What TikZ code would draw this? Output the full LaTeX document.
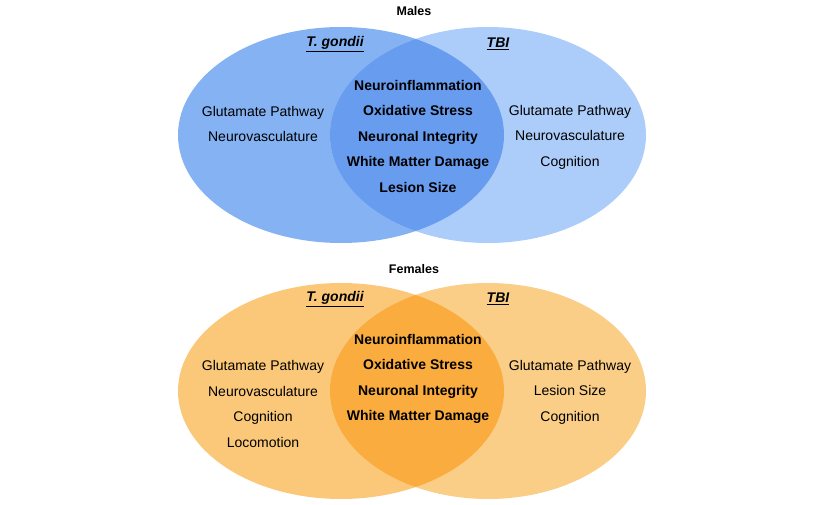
\documentclass[tikz,border=0pt]{standalone}
\usepackage{fontspec}
\setmainfont{Liberation Sans}
\begin{document}
\begin{tikzpicture}[x=1pt,y=-1pt,
 t/.style={font=\fontsize{14}{16}\selectfont,align=center},
 b/.style={font=\fontsize{14}{16}\selectfont\bfseries,align=center},
 hd/.style={font=\fontsize{14}{16}\selectfont\bfseries\itshape},
 tt/.style={font=\fontsize{12.5}{14}\selectfont\bfseries}]
\useasboundingbox (0,0) rectangle (838,505);
\definecolor{mL}{RGB}{132,178,242}\definecolor{mR}{RGB}{172,205,250}\definecolor{mO}{RGB}{104,156,238}
\definecolor{fL}{RGB}{250,200,120}\definecolor{fR}{RGB}{251,206,135}\definecolor{fO}{RGB}{250,172,62}
% males
\fill[mL] (341,135) ellipse (163 and 108);
\fill[mR] (488,135) ellipse (158 and 108);
\begin{scope}\clip (341,135) ellipse (163 and 108);\fill[mO] (488,135) ellipse (158 and 108);\end{scope}
% females
\fill[fL] (341,391) ellipse (163 and 108);
\fill[fR] (488,391) ellipse (158 and 108);
\begin{scope}\clip (341,391) ellipse (163 and 108);\fill[fO] (488,391) ellipse (158 and 108);\end{scope}
\node[tt] (m) at (414,11) {Males};
\node[tt] (f) at (414,269) {Females};
\node[hd] (mt) at (335,44) {\underline{T. gondii}};
\node[hd] (mb) at (498,44) {\underline{TBI}};
\node[hd] (ft) at (335,299) {\underline{T. gondii}};
\node[hd] (fb) at (498,299) {\underline{TBI}};
\node[t] (ml) at (263,124) {Glutamate Pathway\\[9.5pt]Neurovasculature};
\node[t] (mr) at (570,137) {Glutamate Pathway\\[9.5pt]Neurovasculature\\[9.5pt]Cognition};
\node[b] (mc) at (418,136) {Neuroinflammation\\[9.5pt]Oxidative Stress\\[9.5pt]Neuronal Integrity\\[9.5pt]White Matter Damage\\[9.5pt]Lesion Size};
\node[t] (fl) at (263,404) {Glutamate Pathway\\[9.5pt]Neurovasculature\\[9.5pt]Cognition\\[9.5pt]Locomotion};
\node[t] (fr) at (570,392) {Glutamate Pathway\\[9.5pt]Lesion Size\\[9.5pt]Cognition};
\node[b] (fc) at (418,379) {Neuroinflammation\\[9.5pt]Oxidative Stress\\[9.5pt]Neuronal Integrity\\[9.5pt]White Matter Damage};
\end{tikzpicture}
\end{document}
